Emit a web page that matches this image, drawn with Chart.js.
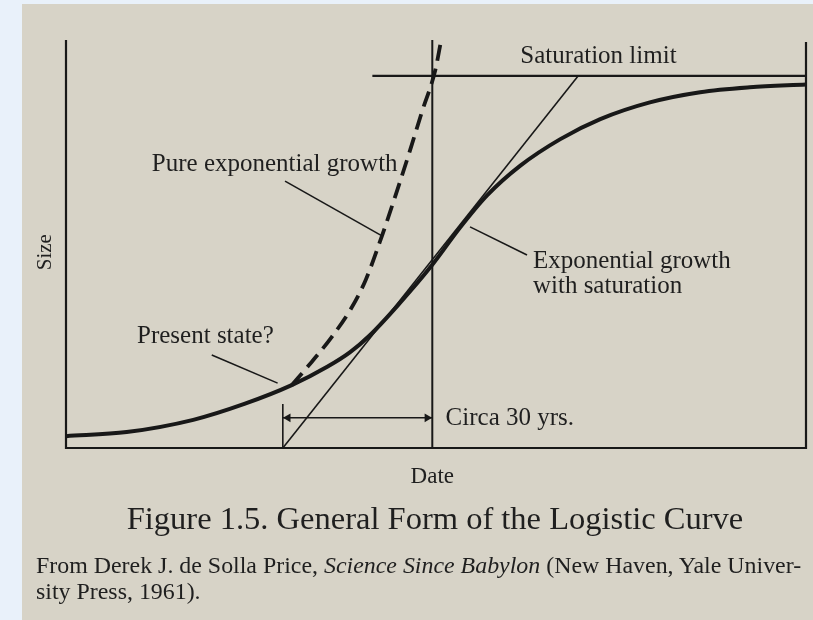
<!DOCTYPE html>
<html>
<head>
    <title>Logistic Curve</title>
    <script src="https://cdn.jsdelivr.net/npm/chart.js"></script>
    <style>
        html, body { margin: 0; padding: 0; }
        body { width: 813px; height: 620px; background: #e9f1fa; position: relative; overflow: hidden; }
        #paper { position: absolute; left: 22px; top: 4px; right: 0; bottom: 0; background: #d7d3c7; }
        #chart { position: absolute; left: 0; top: 0; }
        .txt { position: absolute; font-family: "Liberation Serif", serif; color: #1f1f1f; white-space: nowrap; }
        #caption { left: 0; width: 870px; top: 501px; font-size: 32.5px; line-height: 35px; text-align: center; }
        #source { left: 36px; top: 552px; font-size: 23.9px; line-height: 26px; }
    </style>
</head>
<body>
    <div id="paper"></div>
    <canvas id="chart" width="813" height="620"></canvas>
    <div class="txt" id="caption">Figure 1.5. General Form of the Logistic Curve</div>
    <div class="txt" id="source">From Derek J. de Solla Price, <i>Science Since Babylon</i> (New Haven, Yale Univer-<br>sity Press, 1961).</div>

    <script>
        // x: date (0..100 across the frame), y: size (0..100 up the frame)
        var logisticX = [0, 8.2, 17.2, 24.1, 30.5, 35.3, 38.4, 41.1, 45.1, 49.5, 53.2, 56.9, 61.4, 66.8, 72.2, 78.9, 85.7, 92.4, 100];
        var logisticY = [2.9, 3.9, 6.9, 10.8, 15.4, 19.9, 23.5, 27.7, 35.5, 44.9, 53.9, 61.9, 69.2, 75.7, 80.6, 84.7, 87.2, 88.4, 89.1];

        var exponentialX = [30.5, 33.2, 35.9, 38.4, 40.5, 42.7, 44.6, 46.5, 48.1, 49.9, 50.7];
        var exponentialY = [15.4, 21.1, 27.2, 33.8, 41.2, 52.0, 62.3, 73.0, 82.4, 92.6, 100];

        var tangentX = [29.3, 69.2];
        var tangentY = [0, 91.2];
        var saturationX = [41.4, 100];
        var saturationY = [91.2, 91.2];
        var dateLineX = [49.5, 49.5];
        var dateLineY = [0, 100];
        var presentTickX = [29.3, 29.3];
        var presentTickY = [0, 10.8];
        var spanX = [29.3, 30.0, 48.8, 49.5];
        var spanY = [7.4, 7.4, 7.4, 7.4];

        var pureLeaderX = [29.6, 42.7];
        var pureLeaderY = [65.4, 52.0];
        var satLeaderX = [54.6, 62.3];
        var satLeaderY = [54.2, 47.3];
        var presentLeaderX = [19.7, 28.6];
        var presentLeaderY = [22.8, 15.9];

        var labelTexts = ["Saturation limit", "Pure exponential growth", "Exponential growth", "with saturation", "Present state?", "Circa 30 yrs."];
        var labelX = [61.4, 11.6, 63.1, 63.1, 9.6, 51.3];
        var labelY = [94.4, 67.9, 44.1, 38.0, 25.7, 5.6];

        var ink = "#181818";
        var textInk = "#1f1f1f";

        function pts(xs, ys) {
            return xs.map(function (x, i) { return { x: x, y: ys[i] }; });
        }

        function lineSet(xs, ys, width, extra) {
            var ds = {
                data: pts(xs, ys),
                showLine: true,
                borderColor: ink,
                borderWidth: width,
                pointRadius: 0,
                clip: false
            };
            for (var k in extra) ds[k] = extra[k];
            return ds;
        }

        var paperPlugin = {
            id: "paperBits",
            beforeDatasetsDraw: function (chart) {
                var c = chart.ctx, a = chart.chartArea;
                c.save();
                c.strokeStyle = ink;
                c.lineWidth = 2.2;
                c.beginPath();
                c.moveTo(a.left, a.top);
                c.lineTo(a.left, a.bottom);
                c.lineTo(a.right, a.bottom);
                c.lineTo(a.right, a.top + 2);
                c.stroke();
                c.restore();
            },
            afterDatasetsDraw: function (chart) {
                var c = chart.ctx, xs = chart.scales.x, ys = chart.scales.y;
                c.save();
                c.fillStyle = textInk;
                c.font = "25px 'Liberation Serif'";
                c.textBaseline = "alphabetic";
                c.textAlign = "left";
                labelTexts.forEach(function (t, i) {
                    c.fillText(t, xs.getPixelForValue(labelX[i]), ys.getPixelForValue(labelY[i]));
                });
                // axis titles
                c.textAlign = "center";
                c.font = "23px 'Liberation Serif'";
                c.fillText("Date", xs.getPixelForValue(49.5), 483);
                c.translate(51, ys.getPixelForValue(48));
                c.rotate(-Math.PI / 2);
                c.font = "21px 'Liberation Serif'";
                c.fillText("Size", 0, 0);
                c.restore();
            }
        };

        var ctx = document.getElementById("chart").getContext("2d");
        var chart = new Chart(ctx, {
            type: "scatter",
            data: {
                datasets: [
                    lineSet(logisticX, logisticY, 4, { cubicInterpolationMode: "monotone" }),
                    lineSet(exponentialX, exponentialY, 3.8, { cubicInterpolationMode: "monotone", borderDash: [16, 8] }),
                    lineSet(tangentX, tangentY, 1.6),
                    lineSet(saturationX, saturationY, 2.2),
                    lineSet(dateLineX, dateLineY, 2),
                    lineSet(presentTickX, presentTickY, 1.6),
                    lineSet(spanX, spanY, 1.6, {
                        pointRadius: [0, 5, 5, 0],
                        pointStyle: "triangle",
                        rotation: [0, 270, 90, 0],
                        pointBackgroundColor: ink,
                        pointBorderColor: ink,
                        pointBorderWidth: 0
                    }),
                    lineSet(pureLeaderX, pureLeaderY, 1.6),
                    lineSet(satLeaderX, satLeaderY, 1.6),
                    lineSet(presentLeaderX, presentLeaderY, 1.6)
                ]
            },
            options: {
                responsive: false,
                animation: false,
                events: [],
                layout: { padding: { left: 66, top: 40, right: 7, bottom: 172 } },
                plugins: { legend: { display: false }, tooltip: { enabled: false } },
                scales: {
                    x: { type: "linear", min: 0, max: 100, display: false },
                    y: { type: "linear", min: 0, max: 100, display: false }
                }
            },
            plugins: [paperPlugin]
        });
    </script>
</body>
</html>
